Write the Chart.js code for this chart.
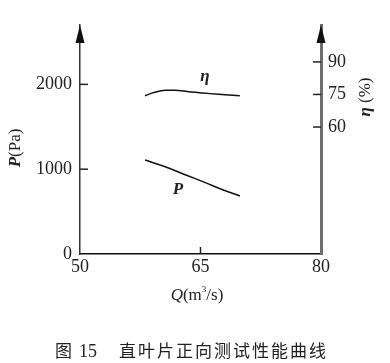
<!DOCTYPE html>
<html>
<head>
<meta charset="utf-8">
<script src="https://cdn.jsdelivr.net/npm/chart.js@4"></script>
<style>
  body { margin: 0; background: #fff; }
  #wrap { width: 390px; height: 363px; }
</style>
</head>
<body>
<div id="wrap"><canvas id="perfChart" width="390" height="363"></canvas></div>
<script>
// Flow rate Q (m3/s)
const flowEta = [58.1, 59.3, 60.6, 61.8, 63.5, 65.2, 67.2, 69.9];
const etaValues = [74.4, 76.0, 76.9, 76.9, 76.3, 75.7, 75.1, 74.4];

const flowP = [58.1, 60.6, 63.1, 65.6, 67.6, 69.9];
const pValues = [1108, 1029, 935, 841, 763, 684];

// tick labels
const xTicks = [50, 65, 80];
const pTicks = [0, 1000, 2000];
const etaTicks = [60, 75, 90];

const SERIF = "'Liberation Serif', 'DejaVu Serif', serif";
const CJK = "'Noto Sans CJK SC', sans-serif";

const setTicks = (list) => (scale) => {
  scale.ticks = list.map((v) => ({ value: v }));
};
const plainLabel = (value) => String(value);

/**
 * Draws the extras: arrows, inward ticks, axis titles, curve labels, caption
 */
const decorPlugin = {
  id: "decor",
  afterDraw(chart) {
    const ctx = chart.ctx;
    const area = chart.chartArea;
    const { x, y, y1 } = chart.scales;
    ctx.save();

    // inward tick marks
    ctx.lineWidth = 1.5;
    ctx.strokeStyle = "#222";
    pTicks.slice(1).forEach((v) => {
      const py = y.getPixelForValue(v);
      ctx.beginPath();
      ctx.moveTo(area.left, py);
      ctx.lineTo(area.left + 8, py);
      ctx.stroke();
    });
    ctx.beginPath();
    ctx.moveTo(x.getPixelForValue(65), area.bottom);
    ctx.lineTo(x.getPixelForValue(65), area.bottom - 7);
    ctx.stroke();
    etaTicks.forEach((v) => {
      const py = y1.getPixelForValue(v);
      ctx.beginPath();
      ctx.moveTo(area.right, py);
      ctx.lineTo(area.right - 8, py);
      ctx.stroke();
    });

    // arrow heads
    const arrow = (ax, color) => {
      ctx.fillStyle = color;
      ctx.beginPath();
      ctx.moveTo(ax, area.top);
      ctx.lineTo(ax - 4.5, area.top + 18);
      ctx.lineTo(ax + 4.5, area.top + 18);
      ctx.closePath();
      ctx.fill();
    };
    arrow(area.left, "#111");
    arrow(area.right, "#111");

    ctx.fillStyle = "#222";
    ctx.textBaseline = "middle";

    // left title P(Pa), reading bottom to top
    ctx.save();
    ctx.translate(16, 148);
    ctx.rotate(-Math.PI / 2);
    ctx.font = "italic bold 17px " + SERIF;
    const wP = ctx.measureText("P").width;
    ctx.font = "17px " + SERIF;
    const wPa = ctx.measureText("(Pa)").width;
    let sx = -(wP + wPa) / 2;
    ctx.textAlign = "left";
    ctx.font = "italic bold 17px " + SERIF;
    ctx.fillText("P", sx, 0);
    ctx.font = "17px " + SERIF;
    ctx.fillText("(Pa)", sx + wP, 0);
    ctx.restore();

    // right title η (%), reading bottom to top
    ctx.save();
    ctx.translate(366, 97);
    ctx.rotate(-Math.PI / 2);
    ctx.font = "italic bold 17px " + SERIF;
    const wEta = ctx.measureText("η ").width;
    ctx.font = "17px " + SERIF;
    const wPct = ctx.measureText("(%)").width;
    sx = -(wEta + wPct) / 2;
    ctx.textAlign = "left";
    ctx.font = "italic bold 17px " + SERIF;
    ctx.fillText("η", sx, 0);
    ctx.font = "17px " + SERIF;
    ctx.fillText("(%)", sx + wEta, 0);
    ctx.restore();

    // x title Q(m3/s)
    ctx.textAlign = "left";
    ctx.font = "italic 17px " + SERIF;
    const wQ = ctx.measureText("Q").width;
    ctx.font = "17px " + SERIF;
    const wM = ctx.measureText("(m").width;
    ctx.font = "9px " + SERIF;
    const w3 = ctx.measureText("3").width;
    ctx.font = "17px " + SERIF;
    const wS = ctx.measureText("/s)").width;
    let qx = 197 - (wQ + wM + w3 + wS) / 2;
    const qy = 296;
    ctx.font = "italic 17px " + SERIF;
    ctx.fillText("Q", qx, qy);
    qx += wQ;
    ctx.font = "17px " + SERIF;
    ctx.fillText("(m", qx, qy);
    qx += wM;
    ctx.font = "9px " + SERIF;
    ctx.fillText("3", qx, qy - 6);
    qx += w3;
    ctx.font = "17px " + SERIF;
    ctx.fillText("/s)", qx, qy);

    // curve labels
    ctx.textAlign = "center";
    ctx.font = "italic bold 17px " + SERIF;
    ctx.fillText("η", 205, 77);
    ctx.fillText("P", 178, 190);

    // caption
    ctx.textAlign = "left";
    ctx.font = "17px " + CJK;
    ctx.fillText("图", 55, 351);
    ctx.font = "18px " + SERIF;
    ctx.fillText("15", 79, 352);
    ctx.font = "17px " + CJK;
    const caption = "直叶片正向测试性能曲线";
    [...caption].forEach((ch, i) => {
      ctx.fillText(ch, 119 + i * 19, 351);
    });

    ctx.restore();
  },
};

const ctx = document.getElementById("perfChart").getContext("2d");
const perfChart = new Chart(ctx, {
  type: "line",
  data: {
    datasets: [
      {
        label: "P",
        data: flowP.map((q, i) => ({ x: q, y: pValues[i] })),
        yAxisID: "y",
        borderColor: "#111",
        borderWidth: 1.5,
        pointRadius: 0,
        tension: 0.4,
        fill: false,
      },
      {
        label: "η",
        data: flowEta.map((q, i) => ({ x: q, y: etaValues[i] })),
        yAxisID: "y1",
        borderColor: "#111",
        borderWidth: 1.5,
        pointRadius: 0,
        tension: 0.4,
        fill: false,
      },
    ],
  },
  options: {
    responsive: false,
    animation: false,
    layout: { padding: { top: 25, left: 0, right: 0, bottom: 0 } },
    plugins: {
      legend: { display: false },
      tooltip: { enabled: false },
    },
    scales: {
      x: {
        type: "linear",
        min: 50,
        max: 80,
        afterBuildTicks: setTicks(xTicks),
        afterFit: (scale) => { scale.height = 109; },
        border: { display: true, color: "#111", width: 1.5 },
        grid: { drawOnChartArea: false, drawTicks: false },
        ticks: {
          padding: 2,
          color: "#222",
          callback: plainLabel,
          font: { family: SERIF, size: 18 },
        },
      },
      y: {
        type: "linear",
        position: "left",
        min: 0,
        max: 2700,
        afterBuildTicks: setTicks(pTicks),
        afterFit: (scale) => { scale.width = 80; },
        border: { display: true, color: "#333", width: 1.5 },
        grid: { drawOnChartArea: false, drawTicks: false },
        ticks: {
          padding: 8,
          color: "#222",
          callback: plainLabel,
          font: { family: SERIF, size: 18 },
        },
      },
      y1: {
        type: "linear",
        position: "right",
        min: 1.5,
        max: 107,
        afterBuildTicks: setTicks(etaTicks),
        afterFit: (scale) => { scale.width = 69; },
        border: { display: true, color: "#6e6e6e", width: 3 },
        grid: { drawOnChartArea: false, drawTicks: false },
        ticks: {
          padding: 7,
          color: "#222",
          callback: plainLabel,
          font: { family: SERIF, size: 18 },
        },
      },
    },
  },
  plugins: [decorPlugin],
});
</script>
</body>
</html>
